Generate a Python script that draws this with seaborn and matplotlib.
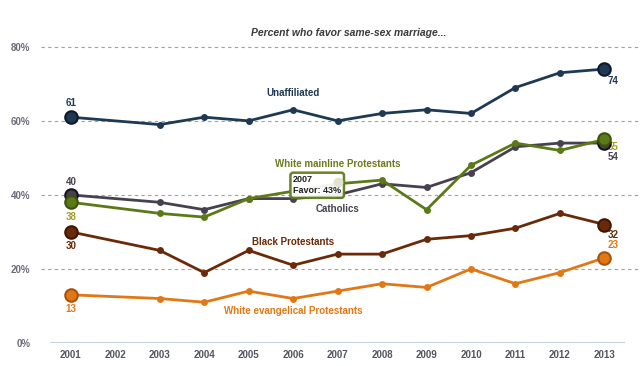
import pandas as pd
import matplotlib.pyplot as plt
import seaborn as sns

# Data (2002 has no survey)
years = [2001, 2003, 2004, 2005, 2006, 2007, 2008, 2009, 2010, 2011, 2012, 2013]
unaffiliated = [61, 59, 61, 60, 63, 60, 62, 63, 62, 69, 73, 74]
catholics = [40, 38, 36, 39, 39, 40, 43, 42, 46, 53, 54, 54]
mainline = [38, 35, 34, 39, 41, 43, 44, 36, 48, 54, 52, 55]
black_prot = [30, 25, 19, 25, 21, 24, 24, 28, 29, 31, 35, 32]
evangelical = [13, 12, 11, 14, 12, 14, 16, 15, 20, 16, 19, 23]
tick_years = list(range(2001, 2014))

series = {
    'Unaffiliated': (unaffiliated, '#1e3954', '#0d1a28'),
    'Catholics': (catholics, '#47404f', '#15131a'),
    'White mainline Protestants': (mainline, '#5b7a17', '#3d520f'),
    'Black Protestants': (black_prot, '#6a2a08', '#3f1603'),
    'White evangelical Protestants': (evangelical, '#e07816', '#a8530a'),
}

rows = []
for name, (vals, col, ec) in series.items():
    for y, v in zip(years, vals):
        rows.append({'Year': y, 'Favor': v, 'Group': name})
df = pd.DataFrame(rows)

sns.set_style('white')
plt.rcParams['font.family'] = ['Liberation Sans', 'DejaVu Sans']

fig = plt.figure(figsize=(6.4, 3.66), dpi=100)
ax = fig.add_axes([0.078, 0.063, 0.899, 0.809])

# grid
for g in [20, 40, 60, 80]:
    ax.axhline(g, xmin=-0.015, xmax=1.03, color='#a0a0a0', lw=0.8, ls=(0, (3, 3)), clip_on=False, zorder=0)
ax.axhline(0, color='#b8c8dc', lw=1.2, zorder=1)

order = ['White evangelical Protestants', 'Black Protestants', 'Catholics', 'White mainline Protestants', 'Unaffiliated']
for name in order:
    vals, col, ec = series[name]
    sub = df[df['Group'] == name]
    sns.lineplot(data=sub, x='Year', y='Favor', color=col, lw=2, marker='o', markersize=5,
                 markeredgewidth=0, ax=ax, zorder=3)
    ax.plot([years[0], years[-1]], [vals[0], vals[-1]], 'o', ms=9, color=col,
            mec=ec, mew=1.5, zorder=4, ls='none')

# tooltip
ax.text(2006.0, 42.6, '2007\nFavor: 43%', fontsize=6.5, color='#222222', fontweight='bold', linespacing=1.25,
        va='center', ha='left', zorder=6,
        bbox=dict(boxstyle='round,pad=0.3', fc='white', ec='#5b7a17', lw=1.8, alpha=0.92))
ax.plot([2007], [43.5], 'o', ms=6, color='#dfe3cf', zorder=7)

# series labels
lab = dict(fontsize=7, fontweight='bold', ha='center', va='center')
ax.text(2006.0, 67.5, 'Unaffiliated', color='#1e3954', **lab)
ax.text(2007.0, 48.3, 'White mainline Protestants', color='#6e7a1e', **lab)
ax.text(2007.0, 36.3, 'Catholics', color='#47404f', **lab)
ax.text(2006.0, 27.3, 'Black Protestants', color='#6a2a08', **lab)
ax.text(2006.0, 8.6, 'White evangelical Protestants', color='#e07816', **lab)

# end value labels
val = dict(fontsize=7, fontweight='bold', ha='center')
ax.text(2001, 63.5, '61', color='#1e3954', va='bottom', **val)
ax.text(2001, 42.0, '40', color='#47404f', va='bottom', **val)
ax.text(2001, 35.5, '38', color='#a89a2a', va='top', **val)
ax.text(2001, 27.5, '30', color='#6a2a08', va='top', **val)
ax.text(2001, 10.5, '13', color='#e07816', va='top', **val)
ax.text(2013.2, 72.0, '74', color='#1e3954', va='top', **val)
ax.text(2013.2, 54.4, '55', color='#a89a2a', va='top', **val)
ax.text(2013.2, 51.6, '54', color='#47404f', va='top', **val)
ax.text(2013.2, 30.6, '32', color='#6a2a08', va='top', **val)
ax.text(2013.2, 27.8, '23', color='#e07816', va='top', **val)

ax.set_xlim(2000.53, 2013.47)
ax.set_ylim(0, 80)
ax.set_xticks(tick_years)
ax.set_xticklabels([str(t) for t in tick_years], fontsize=7, fontweight='bold', color='#505560')
ax.set_yticks([0, 20, 40, 60, 80])
ax.set_yticklabels(['0%', '20%', '40%', '60%', '80%'], fontsize=7, fontweight='bold', color='#6a6a7a')
ax.tick_params(axis='y', length=0, pad=14)
ax.tick_params(axis='x', length=0, pad=5)
ax.set_xlabel('')
ax.set_ylabel('')
for s in ax.spines.values():
    s.set_visible(False)
ax.set_title('Percent who favor same-sex marriage...', fontsize=7.5, fontstyle='italic',
             fontweight='bold', color='#3a3a3a', pad=8, x=0.52)

fig.savefig('out.png', dpi=100)
